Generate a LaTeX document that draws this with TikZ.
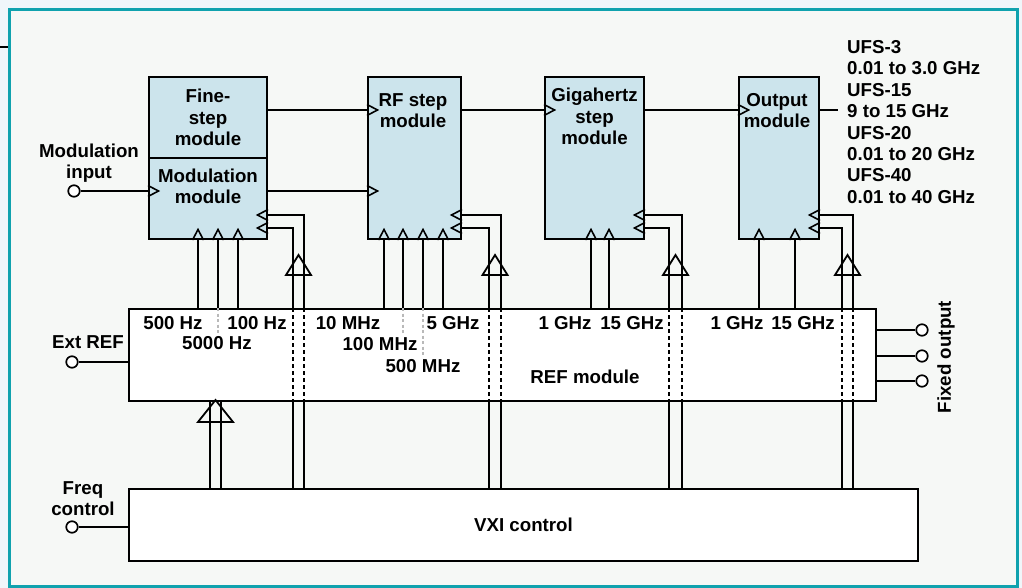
\documentclass[tikz,border=0pt]{standalone}
\usepackage{fontspec}
\setmainfont{Liberation Sans}
\usetikzlibrary{positioning}
\definecolor{pagebg}{HTML}{F0F6FA}
\definecolor{panelbg}{HTML}{F6F8F6}
\definecolor{frameteal}{HTML}{10A2AE}
\definecolor{modblue}{HTML}{CCE4EC}
\tikzset{
  lbl/.style={font=\bfseries\fontsize{18.7}{21.4}\selectfont, inner sep=0pt, align=center},
  modbox/.style={draw, line width=2pt, fill=modblue, inner sep=0pt, anchor=north west},
  plainbox/.style={draw, line width=2pt, fill=white, inner sep=0pt, anchor=north west},
  port/.style={draw, circle, line width=1.7pt, fill=white, minimum size=11.5pt, inner sep=0pt},
  wire/.style={line width=1.9pt},
  busdash/.style={line width=1.9pt, dash pattern=on 3.5pt off 3.5pt},
  graydash/.style={line width=1.3pt, gray!55, dash pattern=on 3pt off 2.5pt},
  chev/.pic={\draw[line width=1.6pt] (0,-5.5) -- (10.5,0) -- (0,5.5);},
  bigtri/.pic={\draw[line width=1.8pt] (-12.5,0) -- (0,-20) -- (12.5,0) -- cycle;}
}
\begin{document}
\begin{tikzpicture}[x=1pt,y=-1pt]
	\useasboundingbox (0,0) rectangle (1022,588);
	% panel
	\fill[pagebg] (0,0) rectangle (1022,588);
	\fill[panelbg] (9.5,9.5) rectangle (1017.5,586.5);
	\draw[frameteal, line width=3pt] (9.5,590) -- (9.5,9.5) -- (1017.5,9.5) -- (1017.5,586.5) -- (9.5,586.5);
	\draw[wire] (0,47) -- (8,47);
	% modules
	\node[modbox, lbl, minimum width=118pt, minimum height=81pt] (finestep) at (148,76) {Fine-\\step\\module};
	\node[modbox, minimum width=118pt, minimum height=81pt] (modmod) at (148,157) {};
	\node[modbox, minimum width=93pt, minimum height=162pt] (rfstep) at (367,76) {};
	\node[modbox, minimum width=99pt, minimum height=162pt] (ghzstep) at (544,76) {};
	\node[modbox, minimum width=80pt, minimum height=162pt] (outmod) at (738,76) {};
	\node[plainbox, minimum width=747pt, minimum height=92pt] (refmod) at (128,308) {};
	\node[plainbox, lbl, minimum width=789pt, minimum height=72pt] (vxi) at (128,488) {VXI control};
	\node[lbl, below=11.5pt of modmod.north] (modtxt) {Modulation\\module};
	\node[lbl, below=17pt of rfstep.north, xshift=-1.5pt] (rftxt) {RF step\\module};
	\node[lbl, below=12pt of ghzstep.north] (ghztxt) {Gigahertz\\step\\module};
	\node[lbl, below=17pt of outmod.north, xshift=-2pt] (outtxt) {Output\\module};
	\node[lbl] (reftxt) at (585,377) {REF module};
	% chain of modules
	\draw[wire] (finestep.east |- 0,110) -- (rfstep.west |- 0,110);
	\draw[wire] (modmod.east |- 0,191) -- (rfstep.west |- 0,191);
	\draw[wire] (rfstep.east |- 0,110) -- (ghzstep.west |- 0,110);
	\draw[wire] (ghzstep.east |- 0,110) -- (outmod.west |- 0,110);
	\coordinate (rfout) at (838,110);
	\draw[wire] (outmod.east |- rfout) -- (rfout);
	\foreach \m/\y in {rfstep/110, rfstep/191, ghzstep/110, outmod/110} {
		\pic at (\m.west |- 0,\y) {chev};
	}
	% control pairs from the VXI
	\foreach \m/\xi/\xo in {modmod/293/304, rfstep/489/501, ghzstep/669/682, outmod/842/853} {
		\draw[wire] (\m.east |- 0,215) -| (\xo,0 |- refmod.north);
		\draw[wire] (\m.east |- 0,228) -| (\xi,0 |- refmod.north);
		\draw[busdash] (\xo,0 |- refmod.north) -- (\xo,0 |- refmod.south);
		\draw[busdash] (\xi,0 |- refmod.north) -- (\xi,0 |- refmod.south);
		\draw[wire] (\xo,0 |- refmod.south) -- (\xo,0 |- vxi.north);
		\draw[wire] (\xi,0 |- refmod.south) -- (\xi,0 |- vxi.north);
		\pic[rotate=180] at (\m.east |- 0,215) {chev};
		\pic[rotate=180] at (\m.east |- 0,228) {chev};
		\pic at ({(\xi+\xo)/2},275) {bigtri};
	}
	% reference lines
	\foreach \m/\x in {modmod/198, modmod/218, modmod/238, rfstep/384, rfstep/403, rfstep/423, rfstep/443, ghzstep/591, ghzstep/609, outmod/759, outmod/795} {
		\draw[wire] (\x,0 |- \m.south) -- (\x,0 |- refmod.north);
		\pic[rotate=90] at (\x,0 |- \m.south) {chev};
	}
	\foreach \x/\len in {218/25, 403/25, 423/47} {
		\draw[graydash] (\x,0 |- refmod.north) -- +(0,\len);
	}
	\foreach \x/\y/\lab in {173/323/500 Hz, 257/323/100 Hz, 217/343/5000 Hz, 348/323/10 MHz, 380/344/100 MHz, 423/366/500 MHz, 453/323/5 GHz, 565/323/1 GHz, 632/323/15 GHz, 737/323/1 GHz, 803/323/15 GHz} {
		\node[lbl] at (\x,\y) {\lab};
	}
	% VXI to REF
	\draw[wire] (210,0 |- vxi.north) -- (210,0 |- refmod.south);
	\draw[wire] (221,0 |- vxi.north) -- (221,0 |- refmod.south);
	\pic[xscale=1.4, yscale=1.1] at (215.5,422) {bigtri};
	% inputs and outputs
	\node[port] (modin) at (74,191) {};
	\node[port] (extin) at (72,362) {};
	\node[port] (freqin) at (72,527) {};
	\draw[wire] (modin) -- (modmod.west |- modin);
	\pic at (modmod.west |- modin) {chev};
	\draw[wire] (extin) -- (refmod.west |- extin);
	\draw[wire] (freqin) -- (vxi.west |- freqin);
	\node[lbl, anchor=north] (modinlbl) at (89,143.5) {Modulation\\input};
	\node[lbl] (extlbl) at (88,342) {Ext REF};
	\node[lbl, anchor=north] (freqlbl) at (83,481.5) {Freq\\control};
	\foreach \n/\y in {fixa/330, fixb/356, fixc/381} {
		\node[port] (\n) at (922,\y) {};
		\draw[wire] (refmod.east |- \n) -- (\n);
	}
	\node[lbl, rotate=90] (fixlbl) at (946,357) {Fixed output};
	\node[lbl, align=left, anchor=north west] (ufslbl) at (847,40.3) {UFS-3\\0.01 to 3.0 GHz\\UFS-15\\9 to 15 GHz\\UFS-20\\0.01 to 20 GHz\\UFS-40\\0.01 to 40 GHz};
\end{tikzpicture}
\end{document}
